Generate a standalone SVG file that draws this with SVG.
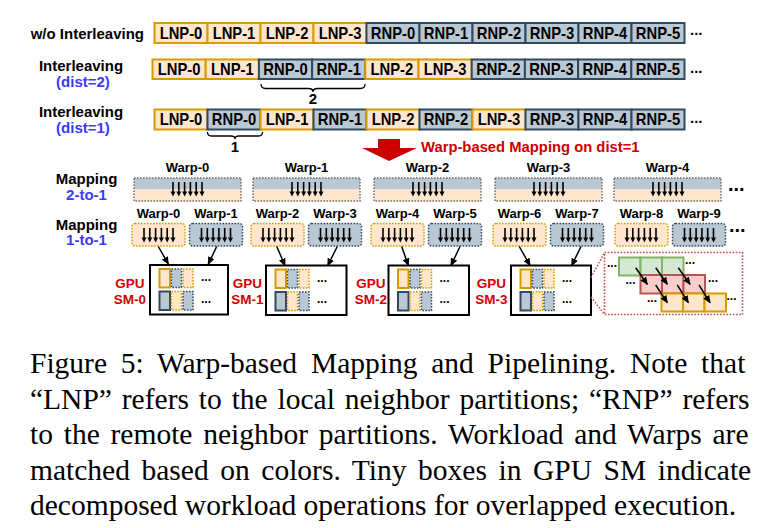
<svg xmlns="http://www.w3.org/2000/svg" width="779" height="528" viewBox="0 0 779 528">
<style>
.l{fill:#ffe6cc;stroke:#d79b00;stroke-width:2}
.r{fill:#bac8d3;stroke:#2f4a60;stroke-width:2}
.ld{fill:#ffe6cc;stroke:#d79b00;stroke-width:1.5;stroke-dasharray:1.6 1.4}
.rd{fill:#bac8d3;stroke:#2f4a60;stroke-width:1.5;stroke-dasharray:1.6 1.4}
.gd{fill:none;stroke:#6f6f6f;stroke-width:1.5;stroke-dasharray:1.6 1.4}
.bt{font-family:"Liberation Sans",Arial,sans-serif;font-weight:bold;font-size:17px;fill:#000;text-anchor:middle;transform-box:fill-box;transform-origin:center;transform:scaleX(0.87)}
.lb{font-family:"Liberation Sans",Arial,sans-serif;font-weight:bold;font-size:15px;fill:#000;text-anchor:middle}
.bl{font-family:"Liberation Sans",Arial,sans-serif;font-weight:bold;font-size:15px;fill:#3a3aff;text-anchor:middle}
.wl{font-family:"Liberation Sans",Arial,sans-serif;font-weight:bold;font-size:13px;fill:#000;text-anchor:middle}
.sm{font-family:"Liberation Sans",Arial,sans-serif;font-weight:bold;font-size:13.5px;fill:#d40000;text-anchor:middle}
.dt{font-family:"Liberation Sans",Arial,sans-serif;font-weight:bold;fill:#000}
.smb{fill:#fff;stroke:#000;stroke-width:2}
.con{stroke:#000;stroke-width:1.5;fill:none}
.cap{font-family:"Liberation Serif","Times New Roman",serif;font-size:29.5px;fill:#000}
.g{fill:#d5e8d4;stroke:#82b366;stroke-width:2}
.rr{fill:#f8cecc;stroke:#b85450;stroke-width:2}
</style>
<defs>
<marker id="ah" markerWidth="8" markerHeight="7" refX="7" refY="3.5" orient="auto" markerUnits="userSpaceOnUse">
<path d="M0,0 L8,3.5 L0,7 z" fill="#000"/>
</marker>
<g id="ar6">
<g stroke="#000" stroke-width="1.6">
<line x1="-14.5" y1="0" x2="-14.5" y2="10.5"/>
<line x1="-8.7" y1="0" x2="-8.7" y2="10.5"/>
<line x1="-2.9" y1="0" x2="-2.9" y2="10.5"/>
<line x1="2.9" y1="0" x2="2.9" y2="10.5"/>
<line x1="8.7" y1="0" x2="8.7" y2="10.5"/>
<line x1="14.5" y1="0" x2="14.5" y2="10.5"/>
</g>
<g fill="#000">
<path d="M-17,9.5 h5 l-2.5,5z"/>
<path d="M-11.2,9.5 h5 l-2.5,5z"/>
<path d="M-5.4,9.5 h5 l-2.5,5z"/>
<path d="M0.4,9.5 h5 l-2.5,5z"/>
<path d="M6.2,9.5 h5 l-2.5,5z"/>
<path d="M12,9.5 h5 l-2.5,5z"/>
</g>
</g>
<g id="tinyA">
<rect x="9.5" y="4" width="10.5" height="18.5" class="l"/>
<rect x="21.5" y="4" width="10" height="18.5" class="rd"/>
<rect x="33" y="4" width="10" height="18.5" class="ld"/>
<text x="51" y="16" class="dt" font-size="12">...</text>
<rect x="9.5" y="26.5" width="10.5" height="18.5" class="r"/>
<rect x="21.5" y="26.5" width="10" height="18.5" class="ld"/>
<rect x="33" y="26.5" width="10" height="18.5" class="rd"/>
<text x="51" y="37.5" class="dt" font-size="12">...</text>
</g>
</defs>

<!-- Row labels -->
<g id="labels">
<text x="144" y="38.5" class="lb" style="text-anchor:end">w/o Interleaving</text>
<text x="81" y="71" class="lb">Interleaving</text>
<text x="83" y="87" class="bl">(dist=2)</text>
<text x="81" y="117" class="lb">Interleaving</text>
<text x="83" y="133" class="bl">(dist=1)</text>
<text x="86.5" y="184" class="lb">Mapping</text>
<text x="86.5" y="200" class="bl">2-to-1</text>
<text x="86.5" y="229.5" class="lb">Mapping</text>
<text x="86.5" y="245" class="bl">1-to-1</text>
</g>

<!-- Row 1: w/o Interleaving -->
<g id="row1">
<g id="r1-lnp0"><rect x="154.5" y="23" width="53" height="20" class="l"/><text x="181" y="39" class="bt">LNP-0</text></g>
<g id="r1-lnp1"><rect x="207.5" y="23" width="53" height="20" class="l"/><text x="234" y="39" class="bt">LNP-1</text></g>
<g id="r1-lnp2"><rect x="260.5" y="23" width="53" height="20" class="l"/><text x="287" y="39" class="bt">LNP-2</text></g>
<g id="r1-lnp3"><rect x="313.5" y="23" width="53" height="20" class="l"/><text x="340" y="39" class="bt">LNP-3</text></g>
<g id="r1-rnp0"><rect x="366.5" y="23" width="53" height="20" class="r"/><text x="393" y="39" class="bt">RNP-0</text></g>
<g id="r1-rnp1"><rect x="419.5" y="23" width="53" height="20" class="r"/><text x="446" y="39" class="bt">RNP-1</text></g>
<g id="r1-rnp2"><rect x="472.5" y="23" width="53" height="20" class="r"/><text x="499" y="39" class="bt">RNP-2</text></g>
<g id="r1-rnp3"><rect x="525.5" y="23" width="53" height="20" class="r"/><text x="552" y="39" class="bt">RNP-3</text></g>
<g id="r1-rnp4"><rect x="578.5" y="23" width="53" height="20" class="r"/><text x="605" y="39" class="bt">RNP-4</text></g>
<g id="r1-rnp5"><rect x="631.5" y="23" width="53" height="20" class="r"/><text x="658" y="39" class="bt">RNP-5</text></g>
<text x="690" y="35" class="dt" font-size="15">...</text>
</g>

<!-- Row 2: dist=2 -->
<g id="row2">
<g id="r2-lnp0"><rect x="152.5" y="59.5" width="53.2" height="19.5" class="l"/><text x="179.1" y="75.2" class="bt">LNP-0</text></g>
<g id="r2-lnp1"><rect x="205.7" y="59.5" width="53.2" height="19.5" class="l"/><text x="232.3" y="75.2" class="bt">LNP-1</text></g>
<g id="r2-rnp0"><rect x="258.9" y="59.5" width="53.2" height="19.5" class="r"/><text x="285.5" y="75.2" class="bt">RNP-0</text></g>
<g id="r2-rnp1"><rect x="312.1" y="59.5" width="53.2" height="19.5" class="r"/><text x="338.7" y="75.2" class="bt">RNP-1</text></g>
<g id="r2-lnp2"><rect x="365.3" y="59.5" width="53.2" height="19.5" class="l"/><text x="391.9" y="75.2" class="bt">LNP-2</text></g>
<g id="r2-lnp3"><rect x="418.5" y="59.5" width="53.2" height="19.5" class="l"/><text x="445.1" y="75.2" class="bt">LNP-3</text></g>
<g id="r2-rnp2"><rect x="471.7" y="59.5" width="53.2" height="19.5" class="r"/><text x="498.3" y="75.2" class="bt">RNP-2</text></g>
<g id="r2-rnp3"><rect x="524.9" y="59.5" width="53.2" height="19.5" class="r"/><text x="551.5" y="75.2" class="bt">RNP-3</text></g>
<g id="r2-rnp4"><rect x="578.1" y="59.5" width="53.2" height="19.5" class="r"/><text x="604.7" y="75.2" class="bt">RNP-4</text></g>
<g id="r2-rnp5"><rect x="631.3" y="59.5" width="53.2" height="19.5" class="r"/><text x="657.9" y="75.2" class="bt">RNP-5</text></g>
<text x="690" y="72.5" class="dt" font-size="15">...</text>
</g>
<g id="brace2">
<path d="M261,84 q0,4.5 4.5,4.5 h43 q4.5,0 4.5,3.5 q0,-3.5 4.5,-3.5 h43 q4.5,0 4.5,-4.5" fill="none" stroke="#000" stroke-width="1.3"/>
<text x="313" y="104" class="lb">2</text>
</g>

<!-- Row 3: dist=1 -->
<g id="row3">
<g id="r3-lnp0"><rect x="154.5" y="109.5" width="53" height="20" class="l"/><text x="181" y="125.5" class="bt">LNP-0</text></g>
<g id="r3-rnp0"><rect x="207.5" y="109.5" width="53" height="20" class="r"/><text x="234" y="125.5" class="bt">RNP-0</text></g>
<g id="r3-lnp1"><rect x="260.5" y="109.5" width="53" height="20" class="l"/><text x="287" y="125.5" class="bt">LNP-1</text></g>
<g id="r3-rnp1"><rect x="313.5" y="109.5" width="53" height="20" class="r"/><text x="340" y="125.5" class="bt">RNP-1</text></g>
<g id="r3-lnp2"><rect x="366.5" y="109.5" width="53" height="20" class="l"/><text x="393" y="125.5" class="bt">LNP-2</text></g>
<g id="r3-rnp2"><rect x="419.5" y="109.5" width="53" height="20" class="r"/><text x="446" y="125.5" class="bt">RNP-2</text></g>
<g id="r3-lnp3"><rect x="472.5" y="109.5" width="53" height="20" class="l"/><text x="499" y="125.5" class="bt">LNP-3</text></g>
<g id="r3-rnp3"><rect x="525.5" y="109.5" width="53" height="20" class="r"/><text x="552" y="125.5" class="bt">RNP-3</text></g>
<g id="r3-rnp4"><rect x="578.5" y="109.5" width="53" height="20" class="r"/><text x="605" y="125.5" class="bt">RNP-4</text></g>
<g id="r3-rnp5"><rect x="631.5" y="109.5" width="53" height="20" class="r"/><text x="658" y="125.5" class="bt">RNP-5</text></g>
<text x="690" y="122.5" class="dt" font-size="15">...</text>
</g>
<g id="brace1">
<path d="M207.5,132 q0,4 4,4 h19.5 q4,0 4,3 q0,-3 4,-3 h19.5 q4,0 4,-4" fill="none" stroke="#000" stroke-width="1.3"/>
<text x="235" y="152" class="lb">1</text>
</g>

<!-- Big red arrow -->
<g id="bigarrow">
<polygon points="378,139 400,139 400,148 417,148 389,161 362,148 378,148" fill="#cc0000"/>
<text x="421" y="151.5" font-family="Liberation Sans, Arial, sans-serif" font-weight="bold" font-size="14.8" fill="#cc0000">Warp-based Mapping on dist=1</text>
</g>

<!-- 2-to-1 warps -->
<g id="w2-0"><text x="187.5" y="172.3" class="wl">Warp-0</text><rect x="134" y="178" width="107" height="11.5" fill="#bac8d3"/><rect x="134" y="189.5" width="107" height="11.5" fill="#ffe6cc"/><rect x="134" y="178" width="107" height="23" class="gd"/><use href="#ar6" x="187.5" y="182"/></g>
<g id="w2-1"><text x="306.5" y="172.3" class="wl">Warp-1</text><rect x="253" y="178" width="107" height="11.5" fill="#bac8d3"/><rect x="253" y="189.5" width="107" height="11.5" fill="#ffe6cc"/><rect x="253" y="178" width="107" height="23" class="gd"/><use href="#ar6" x="306.5" y="182"/></g>
<g id="w2-2"><text x="427.5" y="172.3" class="wl">Warp-2</text><rect x="374" y="178" width="107" height="11.5" fill="#bac8d3"/><rect x="374" y="189.5" width="107" height="11.5" fill="#ffe6cc"/><rect x="374" y="178" width="107" height="23" class="gd"/><use href="#ar6" x="427.5" y="182"/></g>
<g id="w2-3"><text x="548.5" y="172.3" class="wl">Warp-3</text><rect x="495" y="178" width="107" height="11.5" fill="#bac8d3"/><rect x="495" y="189.5" width="107" height="11.5" fill="#ffe6cc"/><rect x="495" y="178" width="107" height="23" class="gd"/><use href="#ar6" x="548.5" y="182"/></g>
<g id="w2-4"><text x="667.5" y="172.3" class="wl">Warp-4</text><rect x="614" y="178" width="107" height="11.5" fill="#bac8d3"/><rect x="614" y="189.5" width="107" height="11.5" fill="#ffe6cc"/><rect x="614" y="178" width="107" height="23" class="gd"/><use href="#ar6" x="667.5" y="182"/></g>
<text x="728" y="191" class="dt" font-size="20">...</text>

<!-- 1-to-1 warps -->
<g id="w1-0"><text x="158.5" y="217.5" class="wl">Warp-0</text><rect x="132" y="223.5" width="53" height="22.5" rx="3" class="ld"/><use href="#ar6" x="158.5" y="228"/></g>
<g id="w1-1"><text x="216" y="217.5" class="wl">Warp-1</text><rect x="189.5" y="223.5" width="53" height="22.5" rx="3" class="rd"/><use href="#ar6" x="216" y="228"/></g>
<g id="w1-2"><text x="277.5" y="217.5" class="wl">Warp-2</text><rect x="251" y="223.5" width="53" height="22.5" rx="3" class="ld"/><use href="#ar6" x="277.5" y="228"/></g>
<g id="w1-3"><text x="335" y="217.5" class="wl">Warp-3</text><rect x="308.5" y="223.5" width="53" height="22.5" rx="3" class="rd"/><use href="#ar6" x="335" y="228"/></g>
<g id="w1-4"><text x="397.5" y="217.5" class="wl">Warp-4</text><rect x="371" y="223.5" width="53" height="22.5" rx="3" class="ld"/><use href="#ar6" x="397.5" y="228"/></g>
<g id="w1-5"><text x="455" y="217.5" class="wl">Warp-5</text><rect x="428.5" y="223.5" width="53" height="22.5" rx="3" class="rd"/><use href="#ar6" x="455" y="228"/></g>
<g id="w1-6"><text x="519.5" y="217.5" class="wl">Warp-6</text><rect x="493" y="223.5" width="53" height="22.5" rx="3" class="ld"/><use href="#ar6" x="519.5" y="228"/></g>
<g id="w1-7"><text x="577" y="217.5" class="wl">Warp-7</text><rect x="550.5" y="223.5" width="53" height="22.5" rx="3" class="rd"/><use href="#ar6" x="577" y="228"/></g>
<g id="w1-8"><text x="641.5" y="217.5" class="wl">Warp-8</text><rect x="615" y="223.5" width="53" height="22.5" rx="3" class="ld"/><use href="#ar6" x="641.5" y="228"/></g>
<g id="w1-9"><text x="699" y="217.5" class="wl">Warp-9</text><rect x="672.5" y="223.5" width="53" height="22.5" rx="3" class="rd"/><use href="#ar6" x="699" y="228"/></g>
<text x="729" y="232" class="dt" font-size="20">...</text>

<!-- GPU SMs -->
<g id="sm0"><text x="130" y="288" class="sm">GPU</text><text x="130" y="303.5" class="sm">SM-0</text><rect x="150" y="265" width="78" height="49.5" class="smb"/><use href="#tinyA" x="150" y="265"/></g>
<g id="sm1"><text x="247.5" y="288" class="sm">GPU</text><text x="247.5" y="303.5" class="sm">SM-1</text><rect x="266" y="265.5" width="80.5" height="49.5" class="smb"/><use href="#tinyA" x="266" y="265.5"/></g>
<g id="sm2"><text x="371" y="288" class="sm">GPU</text><text x="371" y="303.5" class="sm">SM-2</text><rect x="388.5" y="265.5" width="80.5" height="49.5" class="smb"/><use href="#tinyA" x="388.5" y="265.5"/></g>
<g id="sm3"><text x="491.5" y="288" class="sm">GPU</text><text x="491.5" y="303.5" class="sm">SM-3</text><rect x="511" y="265.5" width="80" height="49.5" class="smb"/><use href="#tinyA" x="511" y="265.5"/></g>

<!-- Pipeline inset -->
<g id="inset">
<rect x="604.5" y="252.5" width="138" height="62" fill="none" stroke="#c0504d" stroke-width="1.6" stroke-dasharray="1.6 1.6"/>
<rect x="619" y="257.5" width="21.5" height="18" class="g"/>
<rect x="640.5" y="257.5" width="21.5" height="18" class="g"/>
<rect x="662" y="257.5" width="21.5" height="18" class="g"/>
<rect x="640.5" y="275" width="21.5" height="18.5" class="rr"/>
<rect x="662" y="275" width="21.5" height="18.5" class="rr"/>
<rect x="683.5" y="275" width="21.5" height="18.5" class="rr"/>
<rect x="661.5" y="293.5" width="21.5" height="18" class="l"/>
<rect x="683" y="293.5" width="21.5" height="18" class="l"/>
<rect x="704.5" y="293.5" width="21.5" height="18" class="l"/>
<text x="607" y="267" class="dt" font-size="12">...</text>
<text x="685" y="264" class="dt" font-size="12">...</text>
<text x="625.5" y="284" class="dt" font-size="12">...</text>
<text x="708" y="281.5" class="dt" font-size="12">...</text>
<text x="647" y="302" class="dt" font-size="12">...</text>
<text x="726.5" y="300" class="dt" font-size="12">...</text>
</g>

<!-- Connectors -->
<g id="connectors">
<line x1="158.3" y1="246.5" x2="168.3" y2="264" class="con" marker-end="url(#ah)"/>
<line x1="216.7" y1="246.5" x2="208.3" y2="264" class="con" marker-end="url(#ah)"/>
<line x1="276.7" y1="246.5" x2="285" y2="265.5" class="con" marker-end="url(#ah)"/>
<line x1="337.3" y1="246.5" x2="327.7" y2="265.5" class="con" marker-end="url(#ah)"/>
<line x1="401.7" y1="246.5" x2="408.3" y2="265.5" class="con" marker-end="url(#ah)"/>
<line x1="460" y1="246.5" x2="451" y2="265.5" class="con" marker-end="url(#ah)"/>
<line x1="519.3" y1="246.5" x2="530" y2="265.5" class="con" marker-end="url(#ah)"/>
<line x1="581" y1="246.5" x2="571.7" y2="265.5" class="con" marker-end="url(#ah)"/>
<line x1="591" y1="277.5" x2="604.5" y2="252.5" stroke="#c0504d" stroke-width="1.4" stroke-dasharray="1.6 1.6"/>
<line x1="591" y1="297" x2="604.5" y2="314.5" stroke="#c0504d" stroke-width="1.4" stroke-dasharray="1.6 1.6"/>
<line x1="635.7" y1="267.7" x2="647.3" y2="284.3" class="con" marker-end="url(#ah)"/>
<line x1="655.7" y1="267.7" x2="667.3" y2="284.3" class="con" marker-end="url(#ah)"/>
<line x1="678.3" y1="267.7" x2="690" y2="284.3" class="con" marker-end="url(#ah)"/>
<line x1="655.7" y1="285" x2="667.3" y2="302.7" class="con" marker-end="url(#ah)"/>
<line x1="677.3" y1="285" x2="688.3" y2="302.7" class="con" marker-end="url(#ah)"/>
<line x1="699" y1="285" x2="710" y2="302.7" class="con" marker-end="url(#ah)"/>
</g>

<!-- Caption -->
<g id="caption">
<text x="30" y="373" class="cap" word-spacing="6.4">Figure 5: Warp-based Mapping and Pipelining. Note that</text>
<text x="30" y="408.5" class="cap" word-spacing="2.5">“LNP” refers to the local neighbor partitions; “RNP” refers</text>
<text x="30" y="444" class="cap" word-spacing="3.4">to the remote neighbor partitions. Workload and Warps are</text>
<text x="30" y="479.5" class="cap" word-spacing="4.2">matched based on colors. Tiny boxes in GPU SM indicate</text>
<text x="30" y="515" class="cap">decomposed workload operations for overlapped execution.</text>
</g>
</svg>
